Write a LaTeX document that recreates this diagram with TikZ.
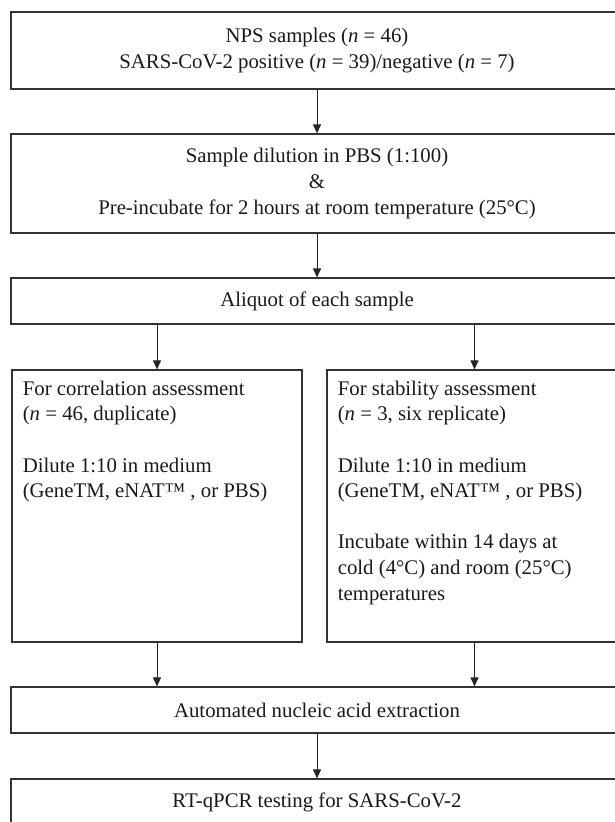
\documentclass[tikz,border=0pt]{standalone}
\usepackage{fontspec}
\setmainfont{Liberation Serif}
\usetikzlibrary{arrows.meta}

\begin{document}
\begin{tikzpicture}[x=0.5pt, y=-0.5pt]
                \tikzstyle{stage}=[
                    draw=black!80, line width=0.6pt, inner sep=0pt,
                    minimum width=306pt, text=black!90, align=center,
                    font=\fontsize{10.4}{12.8}\selectfont]
                \tikzstyle{branch}=[
                    draw=black!80, line width=0.6pt, inner sep=5.4pt,
                    text=black!90, font=\fontsize{10.4}{12.8}\selectfont]
                \tikzstyle{connector}=[-{Triangle[length=4.5pt, width=4pt]},
                    line width=0.5pt, black!85]
                \useasboundingbox (0,0) rectangle (614,822);

                \node [stage, minimum height=38.5pt] (nps) at (317, 50.5)
                    {NPS samples (\textit{n} = 46)\\
                     SARS-CoV-2 positive (\textit{n} = 39)/negative (\textit{n} = 7)};
                \node [stage, minimum height=49.5pt] (dil) at (317, 183.5)
                    {Sample dilution in PBS (1:100)\\ \&\\
                     Pre-incubate for 2 hours at room temperature (25°C)};
                \node [stage, minimum height=23pt] (aliq) at (317, 301)
                    {Aliquot of each sample};

                \node [branch] (corr) at (157, 506)
                    {\parbox[c][125.2pt][t]{134.2pt}{\raggedright
                     For correlation assessment\\
                     (\textit{n} = 46, duplicate)\\[12.8pt]
                     Dilute 1:10 in medium\\
                     (GeneTM, eNAT™ , or PBS)}};
                \node [branch] (stab) at (474.5, 506)
                    {\parbox[c][125.2pt][t]{136.7pt}{\raggedright
                     For stability assessment\\
                     (\textit{n} = 3, six replicate)\\[12.8pt]
                     Dilute 1:10 in medium\\
                     (GeneTM, eNAT™ , or PBS)\\[12.8pt]
                     Incubate within 14 days at\\
                     cold (4°C) and room (25°C)\\
                     temperatures}};

                \node [stage, minimum height=23pt] (ext) at (317, 710)
                    {Automated nucleic acid extraction};
                \node [stage, minimum height=23pt] (pcr) at (317, 802)
                    {RT-qPCR testing for SARS-CoV-2};

                \path [connector] (nps) edge (dil);
                \path [connector] (dil) edge (aliq);
                \foreach \dest in {corr, stab}
                    \path [connector] (\dest.north |- aliq.south) edge (\dest.north);
                \foreach \source in {corr, stab}
                    \path [connector] (\source.south) edge (\source.south |- ext.north);
                \path [connector] (ext) edge (pcr);
            \end{tikzpicture}
\end{document}
